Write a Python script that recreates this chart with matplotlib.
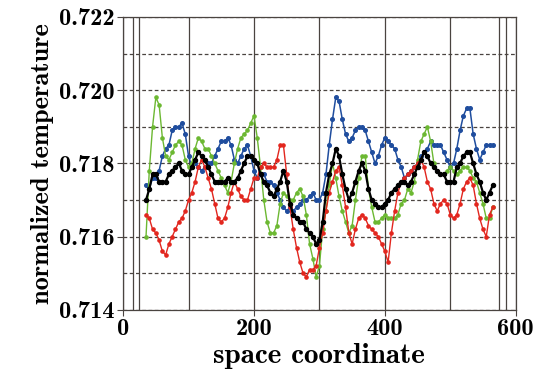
import numpy as np
import matplotlib
matplotlib.use("Agg")
import matplotlib.pyplot as plt

plt.rcParams['font.family'] = ['cmb10', 'DejaVu Serif']
plt.rcParams['axes.unicode_minus'] = False

# sampling positions along the domain
space = np.arange(35, 570, 5)

blue_vals = [
    0.7174, 0.7173, 0.7176, 0.7176, 0.7178, 0.7182, 0.7184, 0.7185, 0.7189, 0.7190,
    0.7190, 0.7191, 0.7188, 0.7182, 0.7179, 0.7180, 0.7179, 0.7178, 0.7179, 0.7180,
    0.7180, 0.7182, 0.7184, 0.7186, 0.7186, 0.7187, 0.7185, 0.7181, 0.7180, 0.7182,
    0.7184, 0.7185, 0.7182, 0.7178, 0.7176, 0.7177, 0.7177, 0.7175, 0.7175, 0.7174,
    0.7172, 0.7170, 0.7168, 0.7167, 0.7168, 0.7167, 0.7168, 0.7169, 0.7170, 0.7170,
    0.7171, 0.7172, 0.7170, 0.7170, 0.7172, 0.7177, 0.7185, 0.7192, 0.7198, 0.7197,
    0.7192, 0.7188, 0.7186, 0.7187, 0.7189, 0.7190, 0.7190, 0.7189, 0.7186, 0.7183,
    0.7180, 0.7182, 0.7185, 0.7187, 0.7186, 0.7185, 0.7184, 0.7181, 0.7179, 0.7176,
    0.7177, 0.7178, 0.7179, 0.7180, 0.7182, 0.7183, 0.7184, 0.7186, 0.7185, 0.7185,
    0.7185, 0.7183, 0.7181, 0.7179, 0.7180, 0.7184, 0.7189, 0.7193, 0.7195, 0.7195,
    0.7188, 0.7184, 0.7181, 0.7183, 0.7185, 0.7185, 0.7185,
]

green_vals = [
    0.7160, 0.7178, 0.7190, 0.7198, 0.7196, 0.7187, 0.7182, 0.7181, 0.7183, 0.7185,
    0.7186, 0.7185, 0.7181, 0.7179, 0.7180, 0.7184, 0.7187, 0.7186, 0.7184, 0.7184,
    0.7182, 0.7180, 0.7178, 0.7176, 0.7174, 0.7172, 0.7175, 0.7180, 0.7184, 0.7187,
    0.7188, 0.7189, 0.7191, 0.7193, 0.7187, 0.7179, 0.7170, 0.7164, 0.7161, 0.7161,
    0.7163, 0.7169, 0.7172, 0.7171, 0.7170, 0.7170, 0.7172, 0.7173, 0.7171, 0.7166,
    0.7158, 0.7154, 0.7149, 0.7152, 0.7162, 0.7167, 0.7174, 0.7180, 0.7176, 0.7171,
    0.7167, 0.7164, 0.7161, 0.7163, 0.7170, 0.7176, 0.7182, 0.7182, 0.7173, 0.7168,
    0.7164, 0.7164, 0.7165, 0.7166, 0.7165, 0.7165, 0.7165, 0.7166, 0.7169, 0.7170,
    0.7173, 0.7172, 0.7175, 0.7181, 0.7186, 0.7188, 0.7190, 0.7186, 0.7180, 0.7178,
    0.7177, 0.7177, 0.7178, 0.7179, 0.7178, 0.7177, 0.7178, 0.7179, 0.7179, 0.7178,
    0.7176, 0.7175, 0.7172, 0.7169, 0.7165, 0.7165, 0.7168,
]

red_vals = [
    0.7166, 0.7165, 0.7162, 0.7161, 0.7159, 0.7156, 0.7155, 0.7158, 0.7160, 0.7162,
    0.7164, 0.7165, 0.7167, 0.7170, 0.7172, 0.7175, 0.7179, 0.7181, 0.7179, 0.7176,
    0.7173, 0.7169, 0.7165, 0.7164, 0.7165, 0.7168, 0.7172, 0.7175, 0.7173, 0.7171,
    0.7170, 0.7170, 0.7173, 0.7176, 0.7176, 0.7179, 0.7180, 0.7179, 0.7179, 0.7179,
    0.7181, 0.7185, 0.7185, 0.7177, 0.7168, 0.7162, 0.7157, 0.7153, 0.7150, 0.7149,
    0.7151, 0.7151, 0.7152, 0.7157, 0.7161, 0.7167, 0.7172, 0.7175, 0.7178, 0.7179,
    0.7174, 0.7168, 0.7161, 0.7158, 0.7162, 0.7165, 0.7166, 0.7165, 0.7163, 0.7162,
    0.7161, 0.7160, 0.7158, 0.7156, 0.7153, 0.7161, 0.7167, 0.7172, 0.7175, 0.7176,
    0.7177, 0.7178, 0.7179, 0.7180, 0.7181, 0.7179, 0.7175, 0.7173, 0.7169, 0.7167,
    0.7169, 0.7170, 0.7169, 0.7166, 0.7165, 0.7166, 0.7169, 0.7173, 0.7175, 0.7176,
    0.7174, 0.7169, 0.7165, 0.7162, 0.7160, 0.7166, 0.7168,
]

black_vals = [
    0.7170, 0.7173, 0.7177, 0.7177, 0.7175, 0.7175, 0.7175, 0.7177, 0.7178, 0.7179,
    0.7180, 0.7178, 0.7177, 0.7177, 0.7179, 0.7181, 0.7183, 0.7182, 0.7181, 0.7179,
    0.7177, 0.7175, 0.7175, 0.7175, 0.7175, 0.7176, 0.7175, 0.7175, 0.7176, 0.7178,
    0.7180, 0.7182, 0.7182, 0.7181, 0.7180, 0.7177, 0.7175, 0.7174, 0.7172, 0.7171,
    0.7173, 0.7175, 0.7178, 0.7175, 0.7169, 0.7166, 0.7165, 0.7164, 0.7164, 0.7162,
    0.7161, 0.7160, 0.7158, 0.7159, 0.7164, 0.7172, 0.7177, 0.7180, 0.7184, 0.7182,
    0.7177, 0.7173, 0.7170, 0.7172, 0.7175, 0.7178, 0.7180, 0.7178, 0.7173, 0.7170,
    0.7169, 0.7168, 0.7168, 0.7169, 0.7170, 0.7172, 0.7173, 0.7174, 0.7175, 0.7175,
    0.7174, 0.7175, 0.7177, 0.7179, 0.7181, 0.7183, 0.7182, 0.7180, 0.7179, 0.7178,
    0.7177, 0.7177, 0.7175, 0.7175, 0.7175, 0.7179, 0.7180, 0.7182, 0.7183, 0.7183,
    0.7180, 0.7177, 0.7175, 0.7172, 0.7170, 0.7172, 0.7174,
]

# domain boundary markers
boundaries = [15, 25, 575, 585]

xticks = [0, 200, 400, 600]
yticks = [0.714, 0.716, 0.718, 0.720, 0.722]

fig = plt.figure(figsize=(5.4, 3.76), dpi=100)
ax = fig.add_axes([0.228, 0.176, 0.727, 0.779])

grid_col = '#4a4440'
ax.set_xlim(0, 600)
ax.set_ylim(0.714, 0.722)
ax.set_xticks(xticks)
ax.set_yticks(yticks)
ax.set_yticklabels(['%.3f' % v for v in yticks])
ax.set_xticks([100, 300, 500], minor=True)
ax.set_yticks([0.715, 0.717, 0.719, 0.721], minor=True)

# vertical grid solid, horizontal grid dashed
ax.grid(axis='x', which='both', color=grid_col, linestyle='-', linewidth=0.9)
ax.grid(axis='y', which='both', color=grid_col, linestyle=(0, (3, 2)), linewidth=0.9)
ax.set_axisbelow(True)
for b in boundaries:
    ax.axvline(b, color=grid_col, linewidth=0.9, zorder=0.5)

ax.plot(space, blue_vals, color='#1f4d9e', linewidth=1.1, marker='o', markersize=2.6, zorder=3)
ax.plot(space, green_vals, color='#6cb832', linewidth=1.0, marker='o', markersize=2.3, zorder=3)
ax.plot(space, red_vals, color='#e2261e', linewidth=1.0, marker='o', markersize=2.3, zorder=3)
ax.plot(space, black_vals, color='black', linewidth=1.6, marker='o', markersize=2.9, zorder=4)

for s in ax.spines.values():
    s.set_color(grid_col)
    s.set_linewidth(0.9)

ax.tick_params(axis='both', which='major', direction='out', length=4, color=grid_col,
               labelsize=17.5, pad=2)
ax.tick_params(axis='both', which='minor', length=0)

ax.set_xlabel('space coordinate', fontsize=21, labelpad=2)
ax.set_ylabel('normalized temperature', fontsize=19, labelpad=4)

fig.savefig('out.png', dpi=100)
